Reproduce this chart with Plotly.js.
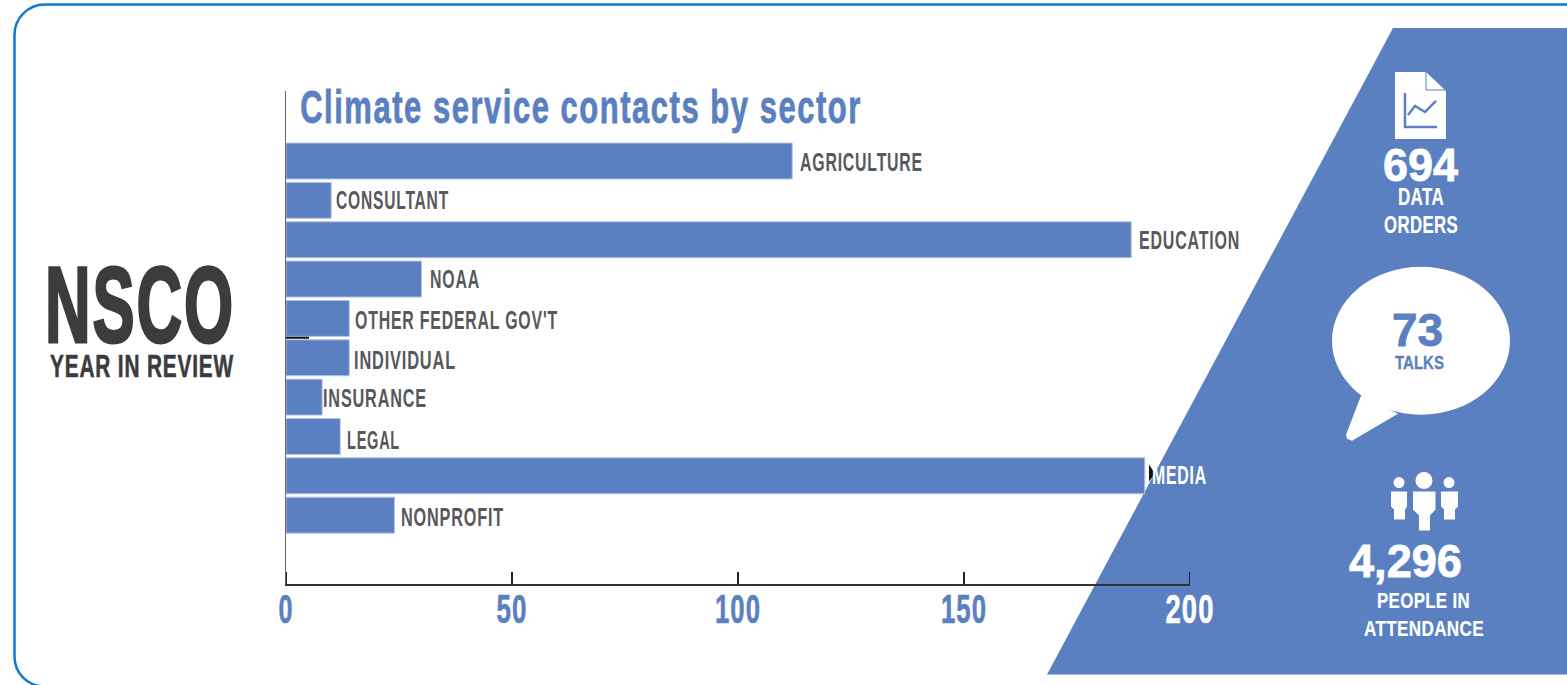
<!DOCTYPE html>
<html>
<head>
<meta charset="utf-8">
<script src="https://cdn.plot.ly/plotly-3.0.1.min.js"></script>
<style>html,body{margin:0;padding:0;background:#fff}#chart{width:1567px;height:685px}</style>
</head>
<body>
<div id="chart"></div>
<script>
// Contacts per sector
const sectors = ["AGRICULTURE","CONSULTANT","EDUCATION","NOAA","OTHER FEDERAL GOV'T","INDIVIDUAL","INSURANCE","LEGAL","MEDIA","NONPROFIT"];
const contacts = [112,10,187,30,14,14,8,12,190,24];
const tickValues = [0,50,100,150,200];
const tickLabels = ["0","50","100","150",'<span style="color:#ffffff">200</span>'];
const tickWidths = [15,31,46,46,49];

// Label placement beside each bar: pixel gap, vertical nudge, rendered width
const labelGap = [8,5,8,8,6,5,1,7,7,7];
const labelNudge = [1,0,0,0,2,2,1,4,-1,2];
const labelWidth = [123,113,101,50,203,102,104,53,55,103];

const BLUE = "#5a80c1", INK = "#58595b", DARK = "#3c3c3e", FONT = "Liberation Sans Narrow, Liberation Sans, sans-serif", SANS = "Liberation Sans, Arial, sans-serif";

// The plot area sits at fixed pixels; decorations are laid out in page pixels
const L = 286, R = 1190, T = 91, B = 584.5;
const px = x => (x - L) / (R - L);
const py = y => (B - y) / (B - T);
const path = pts => pts.map((p, i) => (i ? "L" : "M") + px(p[0]) + "," + py(p[1])).join(" ");
const area = (pts, fill, layer) => ({type:"path", xref:"paper", yref:"paper", path:path(pts) + " Z", fillcolor:fill, line:{width:0}, layer:layer || "above"});
const stroke = (pts, color, w, layer) => ({type:"path", xref:"paper", yref:"paper", path:path(pts), line:{color:color, width:w}, layer:layer || "above"});
const disc = (cx, cy, rx, ry, fill) => ({type:"circle", xref:"paper", yref:"paper", x0:px(cx-rx), x1:px(cx+rx), y0:py(cy+ry), y1:py(cy-ry), fillcolor:fill, line:{width:0}, layer:"above"});
const P = (x, y) => px(x) + "," + py(y);

// Rounded frame around the page
const framePath = "M" + P(1575,4.5) + " L" + P(45,4.5) +
  " C" + P(28,4.5) + " " + P(14.5,18) + " " + P(14.5,35) +
  " L" + P(14.5,657) +
  " C" + P(14.5,674) + " " + P(28,687) + " " + P(45,687);

// Plotly leaves out inside ticks on the range ends, so those two are added here
const endTicks = [tickValues[0], tickValues[tickValues.length - 1]].map(v => ({
  type:"line", xref:"x", yref:"paper", x0:v, x1:v, y0:0, y1:12 / (B - T), line:{color:"#222222", width:2}, layer:"above"
}));

const shapes = [
  {type:"path", xref:"paper", yref:"paper", path:framePath, line:{color:"#0f7acb", width:2.5}, layer:"below"},
  area([[1393,28],[1570,28],[1570,675],[1047,675]], BLUE, "below"),
  ...endTicks,
  // stray marks on the axis and beside the media label
  stroke([[286,338],[309,338]], "#111111", 2),
  area([[1149,465],[1155,474],[1149,482]], "#111111"),
  // data order sheet
  area([[1395,72],[1426,72],[1446,91],[1446,139],[1395,139]], "#ffffff"),
  stroke([[1426,72],[1426,90],[1446,90]], BLUE, 1),
  stroke([[1405,93],[1405,127],[1437,127]], BLUE, 2.5),
  stroke([[1408,115],[1415,106],[1425,112],[1436,101]], BLUE, 2.5),
  // speech bubble
  disc(1421,341,89,74,"#ffffff"),
  area([[1361,396],[1346,435],[1347,439],[1352,441],[1398,414]], "#ffffff"),
  // attendance figures
  disc(1399,483,5.5,5.5,"#ffffff"),
  disc(1424,481,8.5,8.5,"#ffffff"),
  disc(1449,483,5.5,5.5,"#ffffff"),
  area([[1391,492],[1407,492],[1407,507],[1405,510],[1405,520],[1394,520],[1394,510],[1391,507]], "#ffffff"),
  area([[1413,492],[1435.5,492],[1435.5,510],[1430,516],[1430,531],[1419,531],[1419,516],[1413,510]], "#ffffff"),
  area([[1441,492],[1458,492],[1458,507],[1455,510],[1455,520],[1444,520],[1444,510],[1441,507]], "#ffffff")
];

// Free-standing text: left edge, vertical centre, size, colour, family, width, tracking (em), extra weight (px)
const free = [
  ["Climate service contacts by sector",300,107,46,BLUE,FONT,562,0.05,0.8],
  ["NSCO",45,305,108,DARK,FONT,190,0.03,3],
  ["YEAR IN REVIEW",50,366,32,DARK,FONT,184,0.04,0.6],
  ["694",1383,165,47,"#ffffff",SANS,75,0,0.8],
  ["DATA",1398,197,23,"#ffffff",FONT,46,0.02,0.2],
  ["ORDERS",1384,225,23,"#ffffff",FONT,74,0.02,0.2],
  ["73",1392,330,47,BLUE,SANS,51,0,0.8],
  ["TALKS",1395,363,18,BLUE,FONT,49,0,0.3],
  ["4,296",1349,561,47,"#ffffff",SANS,113,0,0.8],
  ["PEOPLE IN",1377,601,22,"#ffffff",FONT,93,0.02,0.2],
  ["ATTENDANCE",1364,629,22,"#ffffff",FONT,120,0.02,0.2]
];

const annotations = free.map(f => ({
  text:f[0], xref:"paper", yref:"paper", x:px(f[1]), y:py(f[2]), xanchor:"left", yanchor:"middle",
  showarrow:false, font:{size:f[3], color:f[4], family:f[5], weight:700}, borderpad:0, borderwidth:0
})).concat(sectors.map((s, i) => ({
  text:s, xref:"x", yref:"y", x:contacts[i], y:s, xanchor:"left", yanchor:"middle",
  xshift:labelGap[i], yshift:-labelNudge[i], showarrow:false, borderpad:0, borderwidth:0,
  font:{size:26, color:s === "MEDIA" ? "#ffffff" : INK, family:FONT, weight:700}
})));
const annotationWidths = free.map(f => f[6]).concat(labelWidth);
const annotationTrack = free.map(f => f[7]).concat(sectors.map(() => 0.05));
const annotationHeavy = free.map(f => f[8]).concat(sectors.map(() => 0));
const annotationInk = free.map(f => f[4]).concat(sectors.map(() => INK));

const trace = {
  type:"bar", orientation:"h", x:contacts, y:sectors, width:0.914,
  marker:{color:BLUE, line:{color:"#b4c5e4", width:1}}, hoverinfo:"x+y"
};

const layout = {
  width:1567, height:685, showlegend:false, paper_bgcolor:"#ffffff", plot_bgcolor:"rgba(0,0,0,0)",
  margin:{l:L, r:1567-R, t:T, b:685-B, pad:0},
  xaxis:{range:[0,200], tickmode:"array", tickvals:tickValues, ticktext:tickLabels, ticks:"inside", ticklen:12, tickwidth:2, tickcolor:"#222222",
         showgrid:false, zeroline:false, showline:true, linecolor:"#333333", linewidth:2,
         tickfont:{size:41, color:BLUE, family:FONT, weight:700}, ticklabelstandoff:-12},
  yaxis:{type:"category", categoryorder:"array", categoryarray:sectors, range:[10.75,-1.78], showticklabels:false, ticks:"",
         showgrid:false, zeroline:false, showline:true, linecolor:"#666666", linewidth:1.5},
  shapes:shapes, annotations:annotations
};

// Narrow the lettering to the condensed widths used on the page, keeping its original left edge or centre
function condense(el, width, centred, track, heavy, ink) {
  const before = el.getBBox();
  if (track) el.style.letterSpacing = track + "em";
  if (heavy) { el.style.stroke = ink; el.style.strokeWidth = heavy + "px"; }
  const b = el.getBBox();
  if (!b.width) return;
  const s = width / b.width;
  const from = centred ? b.x + b.width / 2 : b.x;
  const to = centred ? before.x + before.width / 2 : before.x;
  const prev = el.getAttribute("transform") || "";
  el.setAttribute("transform", prev + " translate(" + to + " 0) scale(" + s + " 1) translate(" + (-from) + " 0)");
}

Plotly.newPlot("chart", [trace], layout, {displayModeBar:false, staticPlot:true}).then(gd => {
  gd.querySelectorAll(".annotation .annotation-text").forEach((t, i) =>
    condense(t, annotationWidths[i], false, annotationTrack[i], annotationHeavy[i], annotationInk[i]));
  gd.querySelectorAll(".xtick text").forEach((t, i) => condense(t, tickWidths[i], true, 0.04, 0.6, i === 4 ? "#ffffff" : BLUE));
});
</script>
</body>
</html>
